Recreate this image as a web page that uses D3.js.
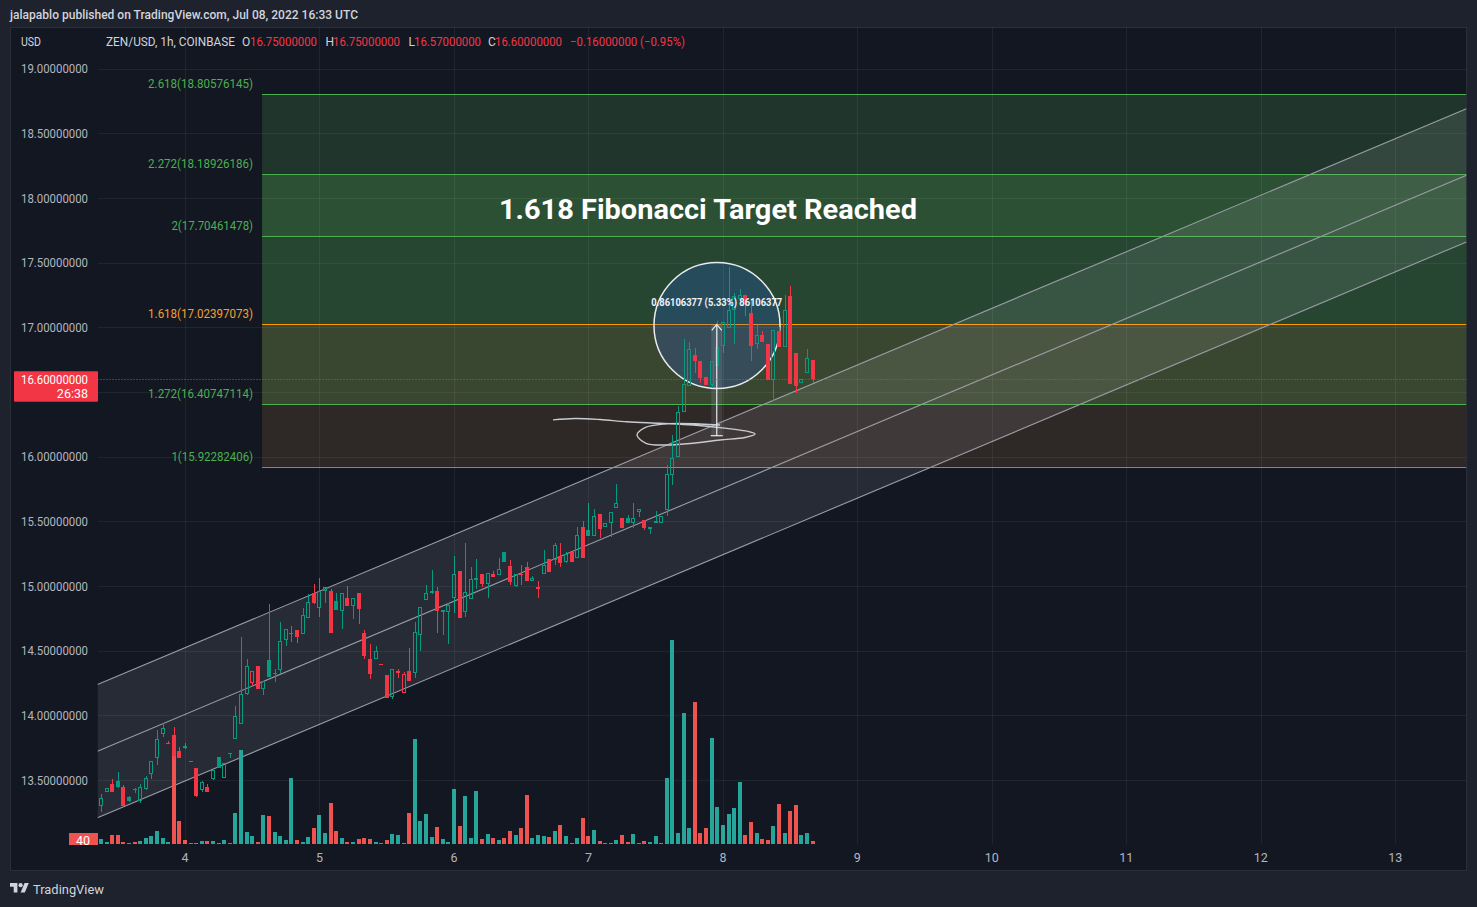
<!DOCTYPE html>
<html><head><meta charset="utf-8">
<script src="https://cdn.jsdelivr.net/npm/d3@7"></script>
<style>
html,body{margin:0;padding:0;background:#1e222d;overflow:hidden;}
svg{display:block;}
text{font-family:Roboto,"Noto Sans",sans-serif;}
</style></head><body>
<svg id="chart" width="1477" height="907"></svg>
<script>
// ---------------- DATA ----------------
const symbolText = "ZEN/USD, 1h, COINBASE";
const publishText = "jalapablo published on TradingView.com, Jul 08, 2022 16:33 UTC";
const currencyText = "USD";
const startTime = "2022-07-03T09:00:00Z"; // first hourly candle
const opens = [13.30,13.41,13.47,13.49,13.45,13.37,13.43,13.34,13.43,13.55,
13.67,13.855,13.79,13.85,13.725,13.76,13.645,13.59,13.42,13.45,
13.505,13.68,13.52,13.70,13.82,13.93,14.168,14.253,14.382,14.207,
14.43,14.32,14.35,14.58,14.64,14.66,14.63,14.75,14.945,14.83,
14.96,14.96,14.885,14.81,14.91,
14.85,14.945,14.64,14.44,14.44,14.40,14.31,14.14,14.33,14.17,
14.34,14.33,14.62,14.89,14.955,14.96,14.81,14.80,14.91,15.12,
14.80,14.90,15.055,15.09,15.02,15.09,15.085,15.265,15.155,15.0,
15.09,15.15,15.04,14.985,15.09,15.21,15.20,15.235,15.19,15.265,
15.22,15.455,15.43,15.385,15.56,
15.455,15.49,15.605,15.53,15.53,15.49,15.575,15.51,15.45,15.49,
15.49,15.59,15.86,16.0,16.35,
16.55,16.79,16.74,16.62,16.555,16.70,16.86,16.995,17.135,17.22,
17.254,17.11,16.87,16.94,16.87,16.59,16.97,16.85,17.24,16.80,
16.57,16.645,16.75];
const highs = [13.39,13.44,13.51,13.56,13.46,13.38,13.44,13.47,13.53,13.65,
13.89,13.94,13.80,13.91,13.755,13.79,13.645,13.59,13.49,13.47,
13.58,13.68,13.63,13.71,14.07,14.607,14.44,14.345,14.382,14.266,
14.86,14.36,14.72,14.67,14.69,14.66,14.83,14.94,15.015,15.06,
14.99,14.975,14.95,14.945,15.0,
14.91,14.945,14.66,14.55,14.54,14.40,14.31,14.36,14.36,14.336,
14.52,14.72,14.84,15.01,15.125,14.99,14.815,14.87,15.23,15.12,
15.33,15.15,15.21,15.09,15.10,15.12,15.22,15.265,15.20,15.09,
15.16,15.19,15.08,15.04,15.28,15.21,15.33,15.33,15.26,15.265,
15.46,15.50,15.64,15.60,15.56,
15.49,15.575,15.79,15.53,15.55,15.64,15.595,15.51,15.455,15.58,
15.545,15.94,16.17,16.39,16.91,
16.89,16.84,16.74,16.62,16.74,17.05,17.04,17.47,17.27,17.30,
17.254,17.22,17.02,16.97,16.87,16.98,17.0,17.25,17.32,16.80,
16.60,16.83,16.75];
const lows = [13.25,13.41,13.41,13.44,13.29,13.33,13.40,13.32,13.42,13.51,
13.62,13.83,13.79,13.66,13.67,13.74,13.645,13.37,13.41,13.41,
13.50,13.59,13.52,13.67,13.82,13.93,14.16,14.23,14.207,14.16,
14.30,14.26,14.32,14.54,14.57,14.56,14.63,14.75,14.86,14.76,
14.87,14.64,14.815,14.67,14.85,
14.745,14.71,14.44,14.28,14.44,14.40,14.137,14.13,14.29,14.168,
14.27,14.29,14.50,14.89,14.94,14.64,14.62,14.555,14.79,14.75,
14.76,14.90,14.98,14.99,14.91,15.07,15.085,15.19,15.01,14.99,
15.01,15.04,15.04,14.91,15.09,15.11,15.16,15.15,15.18,15.19,
15.22,15.22,15.385,15.385,15.37,
15.455,15.38,15.605,15.45,15.49,15.45,15.535,15.43,15.40,15.49,
15.49,15.545,15.78,16.0,16.35,
16.55,16.65,16.57,16.555,16.53,16.70,16.80,16.995,16.87,17.22,
17.09,16.74,16.83,16.89,16.59,16.43,16.85,16.85,16.56,16.49,
16.57,16.645,16.57];
const closes = [13.36,13.44,13.41,13.45,13.30,13.34,13.42,13.45,13.52,13.645,
13.82,13.90,13.79,13.685,13.67,13.745,13.645,13.376,13.485,13.41,
13.58,13.59,13.63,13.71,13.995,14.163,14.382,14.344,14.207,14.266,
14.30,14.33,14.575,14.67,14.64,14.607,14.78,14.88,14.87,14.96,
14.99,14.64,14.815,14.945,14.85,
14.91,14.82,14.46,14.32,14.50,14.40,14.137,14.36,14.34,14.32,
14.27,14.645,14.84,14.945,14.96,14.81,14.815,14.855,15.09,14.75,
14.955,15.055,15.06,15.02,15.10,15.07,15.13,15.19,15.03,15.09,
15.085,15.04,15.06,14.99,15.165,15.11,15.32,15.18,15.25,15.19,
15.395,15.22,15.385,15.545,15.44,
15.49,15.575,15.64,15.45,15.49,15.53,15.595,15.45,15.455,15.50,
15.545,15.87,15.99,16.35,16.56,
16.83,16.74,16.61,16.555,16.74,16.85,17.04,17.135,17.24,17.25,
17.18,16.86,16.94,16.89,16.59,16.98,16.85,17.135,16.56,16.55,
16.60,16.76,16.60];
const volumes = [63,27,120,120,27,13,27,40,80,106,
173,80,27,1170,306,53,13,13,40,40,
40,13,53,13,412,1250,160,106,27,386,
372,160,106,53,878,53,27,93,213,386,
146,545,173,80,27,
27,67,80,67,27,13,53,133,120,13,
412,1397,306,399,93,226,67,27,732,239,
638,80,705,67,133,80,53,80,173,120,
213,652,80,120,106,93,173,253,106,13,
80,346,106,186,40,
13,13,53,120,27,133,13,40,27,106,
13,878,2713,146,1742,
213,1889,146,213,1410,492,253,399,479,825,
120,293,146,67,53,239,532,146,439,519,
120,146,40];
const priceTicks = [13.5,14,14.5,15,15.5,16,16.5,17,17.5,18,18.5,19];
const dayTicks = ["2022-07-04","2022-07-05","2022-07-06","2022-07-07","2022-07-08","2022-07-09","2022-07-10","2022-07-11","2022-07-12","2022-07-13"];
const countdownText = "26:38";

const fibRatios = [1,1.272,1.618,2,2.272,2.618];
const fibPrices = [15.92282406,16.40747114,17.02397073,17.70461478,18.18926186,18.80576145];
const fibColors = ["#4caf50","#4caf50","#ff9800","#4caf50","#4caf50","#4caf50"];
const fibZoneFills = ["#2e2826","#3a4730","#264632","#2c5034","#20362c"];
const fibStart = "2022-07-04T13:45:00Z";

const channelTimes = ["2022-07-03T09:00:00Z","2022-07-08T00:00:00Z"];
const channelUpper = [14.250,16.273];
const channelHalfWidth = 0.515;

const titleText = "1.618 Fibonacci Target Reached";
const titleTime = "2022-07-07T21:20:00Z";
const titlePrice = 17.839;

const circleCenterTime = "2022-07-07T22:57:00Z";
const circleEdgeTime = "2022-07-08T10:12:00Z";
const circlePrice = 17.015;

const rangeTime = "2022-07-07T22:54:00Z";
const rangeLow = 16.16290696;
const rangeHigh = 17.02397073;

const brushHours = [65.68,69.6,74.07,78.83,84.78,90.67,96.68,100.48,101.73,99.95,95.49,90.13,85.67,82.28,80.67,82.10,85.67,91.9,95.49];
const brushPrices = [16.285,16.296,16.288,16.271,16.259,16.246,16.220,16.196,16.176,16.149,16.130,16.103,16.091,16.104,16.168,16.226,16.254,16.254,16.246];
const brushOrigin = "2022-07-04T00:00:00Z";

// ---------------- DRAW ----------------
const W = 1477, H = 907;
const PL = 97.5, PR = 1466.5, PT = 27, PB = 844;
const G = "#089981", R = "#f23645";
const VG = "#26a69a", VR = "#ef5350";
const FG = "#d1d4dc", AX = "#b2b5be";

const svg = d3.select("#chart");
const x = d3.scaleUtc()
  .domain([new Date(Date.UTC(2022,6,4)), new Date(Date.UTC(2022,6,13))])
  .range([185, 1395.3]);
const y = d3.scaleLinear().domain([13.5, 19]).range([780.1, 68.8]);
const yv = d3.scaleLinear().domain([0, d3.max(volumes)]).range([PB, 640]);

const t0 = Date.parse(startTime);
const N = opens.length;
const candles = d3.range(N).map(i => ({
  t: new Date(t0 + i * 3600e3), o: opens[i], h: highs[i], l: lows[i], c: closes[i], v: volumes[i],
  pc: i ? closes[i-1] : opens[i]
}));

// backgrounds
svg.append("rect").attr("width", W).attr("height", H).attr("fill", "#1e222d");
svg.append("rect").attr("x", 10.5).attr("y", 27.5).attr("width", 1456).attr("height", 843)
  .attr("fill", "#131722").attr("stroke", "#2a2e39");

svg.append("clipPath").attr("id", "plotclip").append("rect")
  .attr("x", PL).attr("y", PT).attr("width", PR - PL).attr("height", PB - PT);
const plot = svg.append("g").attr("clip-path", "url(#plotclip)");

// fib zones
const fx0 = x(new Date(fibStart));
for (let k = 0; k < fibPrices.length - 1; k++) {
  plot.append("rect").attr("x", fx0).attr("width", PR - fx0)
    .attr("y", y(fibPrices[k+1])).attr("height", y(fibPrices[k]) - y(fibPrices[k+1]))
    .attr("fill", fibZoneFills[k]);
}

// grid
const grid = plot.append("g").attr("stroke", "rgba(255,255,255,0.06)").attr("shape-rendering", "crispEdges");
priceTicks.forEach(p => grid.append("line").attr("x1", PL).attr("x2", PR)
  .attr("y1", Math.round(y(p)) + 0.5).attr("y2", Math.round(y(p)) + 0.5));
const dayDates = dayTicks.map(d => new Date(d + "T00:00:00Z"));
dayDates.forEach(d => svg.append("line").attr("x1", Math.round(x(d)) + 0.5).attr("x2", Math.round(x(d)) + 0.5)
  .attr("y1", PT).attr("y2", PB).attr("stroke", "rgba(255,255,255,0.06)"));

// fib lines
fibPrices.forEach((p, k) => {
  plot.append("line").attr("x1", fx0).attr("x2", PR)
    .attr("y1", Math.round(y(p)) + 0.5).attr("y2", Math.round(y(p)) + 0.5)
    .attr("stroke", fibColors[k]).attr("stroke-width", 1);
});

// channel
const cta = Date.parse(channelTimes[0]), ctb = Date.parse(channelTimes[1]);
const cslope = (channelUpper[1] - channelUpper[0]) / (ctb - cta);
const upperAt = t => channelUpper[0] + cslope * (t - cta);
const tl = x.invert(PL).getTime(), tr = x.invert(PR).getTime();
const chPoly = [
  [PL, y(upperAt(tl))], [PR, y(upperAt(tr))],
  [PR, y(upperAt(tr) - 2 * channelHalfWidth)], [PL, y(upperAt(tl) - 2 * channelHalfWidth)]
];
plot.append("path").attr("d", "M" + chPoly.map(p => p.join(",")).join("L") + "Z")
  .attr("fill", "rgba(209,212,220,0.11)");
[0, 1, 2].forEach(m => {
  plot.append("line")
    .attr("x1", PL).attr("y1", y(upperAt(tl) - m * channelHalfWidth))
    .attr("x2", PR).attr("y2", y(upperAt(tr) - m * channelHalfWidth))
    .attr("stroke", "#9a9da6").attr("stroke-width", 1.1);
});

// circle + price range
const ccx = x(new Date(circleCenterTime)), ccy = y(circlePrice);
const cr = x(new Date(circleEdgeTime)) - ccx;
plot.append("circle").attr("cx", ccx).attr("cy", ccy).attr("r", cr)
  .attr("fill", "rgba(41,98,255,0.2)").attr("stroke", "#e8eaf0").attr("stroke-width", 1.5);
const rx = x(new Date(rangeTime));
plot.append("rect").attr("x", rx - 5.5).attr("width", 11)
  .attr("y", y(rangeHigh)).attr("height", y(rangeLow) - y(rangeHigh))
  .attr("fill", "rgba(209,212,220,0.12)");

// brush
const bo = Date.parse(brushOrigin);
const brushPts = brushHours.map((h, i) => [x(new Date(bo + h * 3600e3)), y(brushPrices[i])]);
plot.append("path").attr("d", d3.line().curve(d3.curveCatmullRom)(brushPts))
  .attr("fill", "none").attr("stroke", "#c9cbd2").attr("stroke-width", 1.4);

// volume
const vol = plot.append("g").attr("shape-rendering", "crispEdges");
candles.forEach(d => {
  const cx = Math.round(x(d.t));
  vol.append("rect").attr("x", cx - 2).attr("width", 4)
    .attr("y", yv(d.v)).attr("height", PB - yv(d.v))
    .attr("fill", d.c >= d.o ? VG : VR);
});

// candles
const cg = plot.append("g").attr("shape-rendering", "crispEdges");
candles.forEach(d => {
  const cx = Math.round(x(d.t));
  const col = d.c >= d.pc ? G : R;
  const yo = y(d.o), yc = y(d.c), yh = y(d.h), yl = y(d.l);
  const top = Math.min(yo, yc), bot = Math.max(yo, yc);
  const wx = cx + 0.5;
  if (d.c > d.o) {
    if (top - yh > 0.3) cg.append("line").attr("x1", wx).attr("x2", wx).attr("y1", yh).attr("y2", top).attr("stroke", col);
    if (yl - bot > 0.3) cg.append("line").attr("x1", wx).attr("x2", wx).attr("y1", bot).attr("y2", yl).attr("stroke", col);
    cg.append("rect").attr("x", cx - 1.5).attr("width", 3).attr("y", top + 0.5)
      .attr("height", Math.max(bot - top - 1, 0.5)).attr("fill", "none").attr("stroke", col);
  } else if (d.c < d.o) {
    cg.append("line").attr("x1", wx).attr("x2", wx).attr("y1", yh).attr("y2", yl).attr("stroke", col);
    cg.append("rect").attr("x", cx - 2).attr("width", 4).attr("y", top)
      .attr("height", Math.max(bot - top, 1)).attr("fill", col);
  } else {
    cg.append("line").attr("x1", wx).attr("x2", wx).attr("y1", yh).attr("y2", yl).attr("stroke", col);
    cg.append("line").attr("x1", cx - 2).attr("x2", cx + 2)
      .attr("y1", Math.round(yo) + 0.5).attr("y2", Math.round(yo) + 0.5).attr("stroke", col);
  }
});

// price range line, cap and arrow (on top)
const ry1 = y(rangeHigh), ry0 = y(rangeLow);
plot.append("line").attr("x1", rx).attr("x2", rx).attr("y1", ry1).attr("y2", ry0)
  .attr("stroke", "#e8eaf0").attr("stroke-width", 1.2);
plot.append("line").attr("x1", rx - 6).attr("x2", rx + 6).attr("y1", ry0).attr("y2", ry0)
  .attr("stroke", "#e8eaf0").attr("stroke-width", 1.2);
plot.append("path").attr("d", `M${rx-5},${ry1+6}L${rx},${ry1}L${rx+5},${ry1+6}`)
  .attr("fill", "none").attr("stroke", "#e8eaf0").attr("stroke-width", 1.2);
const diff = rangeHigh - rangeLow;
const rangeLabel = `${diff.toFixed(8)} (${(diff / rangeLow * 100).toFixed(2)}%) ${Math.round(diff * 1e8)}`;
plot.append("text").attr("x", rx).attr("y", ry1 - 18).attr("text-anchor", "middle")
  .attr("font-size", 10).attr("font-weight", 700).attr("fill", "#f0f3fa")
  .attr("textLength", 131).attr("lengthAdjust", "spacingAndGlyphs").text(rangeLabel);

// title
plot.append("text").attr("x", x(new Date(titleTime))).attr("y", y(titlePrice))
  .attr("text-anchor", "middle").attr("font-family", "'Open Sans',Roboto,sans-serif")
  .attr("font-size", 27).attr("font-weight", 700).attr("fill", "#ffffff")
  .attr("textLength", 418).attr("lengthAdjust", "spacingAndGlyphs").text(titleText);

// last price dotted line
const last = candles[N - 1];
const ly = Math.round(y(last.c)) + 0.5;
plot.append("line").attr("x1", PL).attr("x2", PR).attr("y1", ly).attr("y2", ly)
  .attr("stroke", R).attr("stroke-dasharray", "1,2");

// fib labels
fibPrices.forEach((p, k) => {
  const lab = `${fibRatios[k]}(${p.toFixed(8)})`;
  svg.append("text").attr("x", fx0 - 9).attr("y", y(p) - 6).attr("text-anchor", "end")
    .attr("font-size", 12).attr("fill", fibColors[k] === "#ff9800" ? "#f0a030" : "#4caf50")
    .attr("textLength", lab.length * 5.83).attr("lengthAdjust", "spacingAndGlyphs").text(lab);
});

// price axis labels (labels covered by the last-price tag are hidden, as in the reference)
priceTicks.forEach(p => {
  if (Math.abs(y(p) - (y(last.c) + 7)) < 22) return;
  svg.append("text").attr("x", 88).attr("y", y(p) + 4.5).attr("text-anchor", "end")
    .attr("font-size", 12.5).attr("fill", AX)
    .attr("textLength", 67).attr("lengthAdjust", "spacingAndGlyphs").text(p.toFixed(8));
});

// last price label
svg.append("rect").attr("x", 14).attr("y", y(last.c) - 8).attr("width", 84).attr("height", 30.5)
  .attr("fill", R).attr("rx", 1);
svg.append("text").attr("x", 88).attr("y", y(last.c) + 4.5).attr("text-anchor", "end")
  .attr("font-size", 12.5).attr("fill", "#ffffff")
  .attr("textLength", 67).attr("lengthAdjust", "spacingAndGlyphs").text(last.c.toFixed(8));
svg.append("text").attr("x", 88).attr("y", y(last.c) + 18.5).attr("text-anchor", "end")
  .attr("font-size", 12.5).attr("fill", "#ffffff").text(countdownText);

// volume label
svg.append("clipPath").attr("id", "vclip").append("rect").attr("x", 0).attr("y", 0).attr("width", 100).attr("height", 845);
const vl = svg.append("g").attr("clip-path", "url(#vclip)");
vl.append("rect").attr("x", 69).attr("y", yv(last.v) - 8).attr("width", 29).attr("height", 16).attr("fill", VR);
vl.append("text").attr("x", 76).attr("y", yv(last.v) + 4.5).attr("font-size", 12.5).attr("fill", "#ffffff").text(String(last.v));

// day axis labels
dayDates.forEach(d => {
  svg.append("text").attr("x", x(d)).attr("y", 861.5).attr("text-anchor", "middle")
    .attr("font-size", 12.5).attr("fill", AX).text(d3.utcFormat("%-d")(d));
});

// header
svg.append("text").attr("x", 10).attr("y", 18.5).attr("font-size", 12.5).attr("font-weight", 500)
  .attr("fill", FG).attr("textLength", 348).attr("lengthAdjust", "spacingAndGlyphs").text(publishText);
svg.append("text").attr("x", 21).attr("y", 45.5).attr("font-size", 12).attr("fill", FG)
  .attr("textLength", 20).attr("lengthAdjust", "spacingAndGlyphs").text(currencyText);
svg.append("text").attr("x", 106).attr("y", 45.5).attr("font-size", 12).attr("fill", FG)
  .attr("textLength", 129).attr("lengthAdjust", "spacingAndGlyphs").text(symbolText);
const chg = last.c - last.pc;
const sgn = v => (v < 0 ? "\u2212" : "+");
const legend = [
  ["O", 242, last.o.toFixed(8), 250],
  ["H", 325.5, last.h.toFixed(8), 333],
  ["L", 408.5, last.l.toFixed(8), 414],
  ["C", 488, last.c.toFixed(8), 495]
];
legend.forEach(([k, kx, v, vx]) => {
  svg.append("text").attr("x", kx).attr("y", 45.5).attr("font-size", 12).attr("fill", FG).text(k);
  svg.append("text").attr("x", vx).attr("y", 45.5).attr("font-size", 12).attr("fill", R)
    .attr("textLength", 67).attr("lengthAdjust", "spacingAndGlyphs").text(v);
});
const chgText = `${sgn(chg)}${Math.abs(chg).toFixed(8)} (${sgn(chg)}${Math.abs(chg / last.pc * 100).toFixed(2)}%)`;
svg.append("text").attr("x", 570).attr("y", 45.5).attr("font-size", 12).attr("fill", R)
  .attr("textLength", 115).attr("lengthAdjust", "spacingAndGlyphs").text(chgText);

// footer logo
const logo = svg.append("g").attr("transform", "translate(10,880.9) scale(0.53)").attr("fill", FG);
logo.append("path").attr("d", "M14 22H7V11H0V4h14v18zM28 22h-8l7.5-18h8L28 22z");
logo.append("circle").attr("cx", 20).attr("cy", 8).attr("r", 4);
svg.append("text").attr("x", 33).attr("y", 894).attr("font-size", 13).attr("fill", FG)
  .attr("textLength", 71).attr("lengthAdjust", "spacingAndGlyphs").text("TradingView");
</script>
</body></html>
